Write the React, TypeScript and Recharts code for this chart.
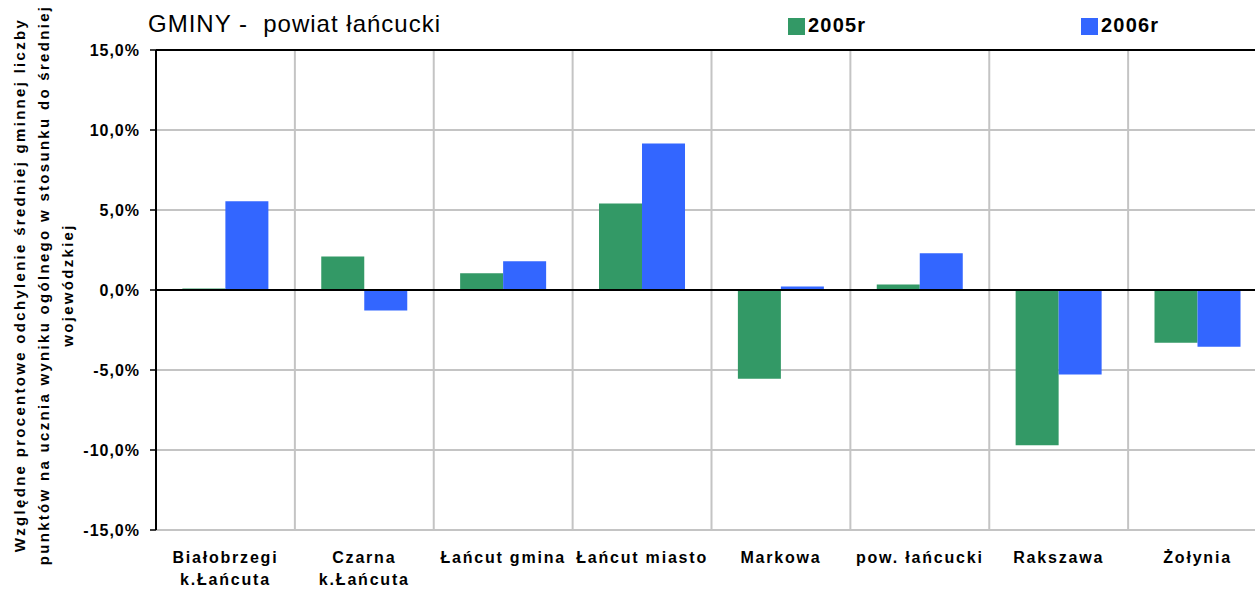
import {
  BarChart,
  Bar,
  XAxis,
  YAxis,
  CartesianGrid,
  ReferenceLine,
} from "recharts";

const categories = [
  "Białobrzegi\nk.Łańcuta",
  "Czarna\nk.Łańcuta",
  "Łańcut gmina",
  "Łańcut miasto",
  "Markowa",
  "pow. łańcucki",
  "Rakszawa",
  "Żołynia",
];
const values2005 = [0.1, 2.1, 1.05, 5.4, -5.55, 0.35, -9.7, -3.3];
const values2006 = [5.55, -1.28, 1.8, 9.15, 0.22, 2.3, -5.28, -3.55];
const yTicks = [-15, -10, -5, 0, 5, 10, 15];
const yTitleLines = [
  "Względne procentowe odchylenie średniej gminnej liczby",
  "punktów na ucznia wyniku ogólnego w stosunku do średniej",
  "wojewódzkiej",
];

const GREEN = "#339966";
const BLUE = "#3366FF";
const GRID = "#c4c4c4";
const FONT = "'Liberation Sans', Arial, Helvetica, sans-serif";

const data = categories.map((name, i) => ({
  name,
  v2005: values2005[i],
  v2006: values2006[i],
}));

function CategoryTick(props: any) {
  const { x, y, payload } = props;
  const lines = String(payload.value).split("\n");
  return (
    <text
      x={x}
      y={y + 25}
      textAnchor="middle"
      fontFamily={FONT}
      fontSize={16}
      fontWeight="bold"
      letterSpacing={1.8}
      fill="#000"
    >
      {lines.map((l, i) => (
        <tspan key={i} x={x} dy={i === 0 ? 0 : 22}>
          {l}
        </tspan>
      ))}
    </text>
  );
}

const fmt = (v: number) => `${v.toFixed(1).replace(".", ",")}%`;

export default function App() {
  return (
    <div
      style={{
        position: "absolute",
        left: 0,
        top: 0,
        width: 1255,
        height: 590,
        overflow: "hidden",
        background: "#fff",
        fontFamily: FONT,
      }}
    >
      <BarChart
        width={1270}
        height={590}
        data={data}
        margin={{ top: 50, right: 3, bottom: 0, left: 0 }}
        barCategoryGap="19%"
        barGap={0}
      >
        <CartesianGrid
          stroke={GRID}
          strokeWidth={2}
          verticalCoordinatesGenerator={({ offset }: any) =>
            categories.map(
              (_, i) => offset.left + ((i + 1) * offset.width) / categories.length
            )
          }
        />
        <XAxis
          dataKey="name"
          interval={0}
          axisLine={false}
          tickLine={false}
          height={60}
          tick={<CategoryTick />}
        />
        <YAxis
          width={156}
          domain={[-15, 15]}
          ticks={yTicks}
          interval={0}
          tickFormatter={fmt}
          axisLine={{ stroke: "#000", strokeWidth: 2 }}
          tickLine={{ stroke: "#000", strokeWidth: 1.5 }}
          tickSize={6}
          tickMargin={10}
          tick={{
            fill: "#000",
            fontSize: 16,
            fontWeight: "bold",
            fontFamily: FONT,
            letterSpacing: 1,
          }}
        />
        <Bar dataKey="v2005" fill={GREEN} isAnimationActive={false} />
        <Bar dataKey="v2006" fill={BLUE} isAnimationActive={false} />
        <ReferenceLine y={0} stroke="#000" strokeWidth={2} />
        <ReferenceLine y={15} stroke="#000" strokeWidth={2} />
      </BarChart>

      <svg
        width={1255}
        height={590}
        style={{ position: "absolute", left: 0, top: 0, pointerEvents: "none" }}
      >
        <text
          x={148}
          y={32}
          fontFamily={FONT}
          fontSize={24}
          letterSpacing={1}
          fill="#000"
        >
          GMINY -{"\u00a0\u00a0"}powiat łańcucki
        </text>
        <rect x={788} y={18} width={17} height={17} fill={GREEN} />
        <text
          x={808}
          y={32}
          fontFamily={FONT}
          fontSize={20}
          fontWeight="bold"
          letterSpacing={1.2}
        >
          2005r
        </text>
        <rect x={1081} y={18} width={17} height={17} fill={BLUE} />
        <text
          x={1101}
          y={32}
          fontFamily={FONT}
          fontSize={20}
          fontWeight="bold"
          letterSpacing={1.2}
        >
          2006r
        </text>
        {yTitleLines.map((l, i) => {
          const cx = 25 + i * 24;
          return (
            <text
              key={i}
              x={cx}
              y={285}
              transform={`rotate(-90 ${cx} 285)`}
              textAnchor="middle"
              fontFamily={FONT}
              fontSize={15}
              fontWeight="bold"
              letterSpacing={2.3}
              fill="#000"
            >
              {l}
            </text>
          );
        })}
      </svg>
    </div>
  );
}
